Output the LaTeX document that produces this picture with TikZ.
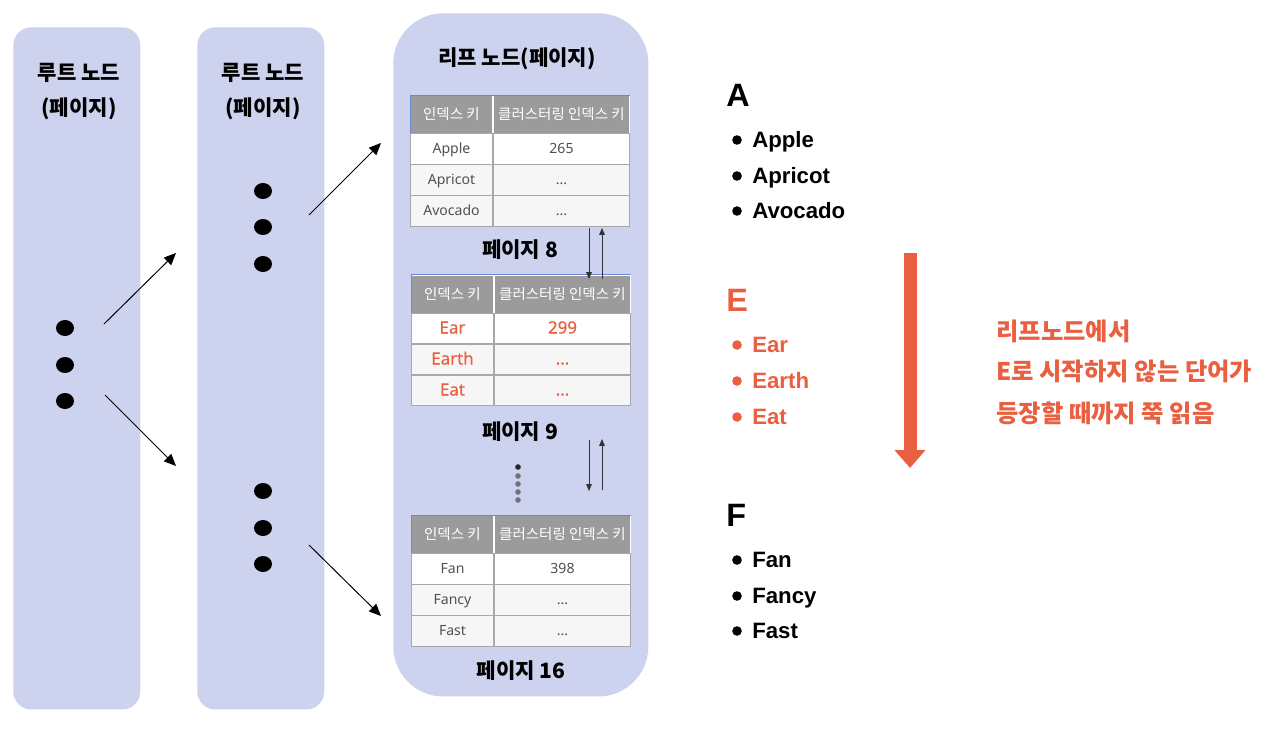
\documentclass[tikz,border=0pt]{standalone}
\usepackage{fontspec}
\setmainfont{Noto Sans CJK KR}
\newfontfamily\latinfont{Noto Sans}
\newfontfamily\latinmed{Noto Sans}[FakeBold=0.4]
\newfontfamily\latinbold{Liberation Sans}
\usetikzlibrary{arrows.meta}
\usetikzlibrary{shapes.geometric}
\definecolor{panelblue}{HTML}{CDD3EE}
\definecolor{headgray}{HTML}{9B9B9B}
\definecolor{headblue}{HTML}{6F86D6}
\definecolor{rowgray}{HTML}{F6F6F6}
\definecolor{linegray}{HTML}{A8A8A8}
\definecolor{textgray}{HTML}{505050}
\definecolor{dotgray}{HTML}{70717F}
\definecolor{salmon}{HTML}{E95F3F}
\tikzset{
	panel/.style={fill=panelblue, draw=none, rounded corners=#1, anchor=north west, inner sep=0pt},
	blackdot/.style={ellipse, fill=black, minimum width=0.45cm, minimum height=0.4cm, inner sep=0pt},
	title/.style={font=\fontsize{15}{15}\selectfont\bfseries, text=black, inner sep=0pt},
	thin arrow/.style={-{Triangle[length=0.3cm,width=0.26cm]}, line width=0.7pt},
	page arrow/.style={-{Triangle[length=0.17cm,width=0.14cm]}, line width=0.5pt, color=black!80},
	headcell/.style={fill=headgray, draw=white, line width=0.6pt, text=white, minimum height=0.95cm, inner sep=0pt, anchor=north west, font=\fontsize{10.3}{10.3}\selectfont},
	rowcell/.style={draw=linegray, line width=0.7pt, minimum height=0.765cm, inner sep=0pt, anchor=north west},
	plainrow/.style={text=textgray, text height=0.28cm, text depth=0.05cm, font=\latinfont\fontsize{10}{10}\selectfont},
	redrow/.style={text=salmon, text height=0.30cm, text depth=0.04cm, font=\latinmed\fontsize{12}{12}\selectfont},
	dotnode/.style={circle, fill=#1, minimum size=0.14cm, inner sep=0pt},
	bullet/.style={circle, fill=#1, minimum size=0.24cm, inner sep=0pt},
	letter/.style={font=\latinbold\bfseries\fontsize{23}{23}\selectfont, anchor=base west, inner sep=0pt},
	word/.style={font=\latinbold\bfseries\fontsize{15.8}{15.8}\selectfont, anchor=base west, inner sep=0pt},
	note/.style={font=\fontsize{17.3}{17.3}\selectfont\bfseries, text=salmon, anchor=west, inner sep=0pt},
}

% one table of the leaf page: name, left, top, row style, keys and first value
\newcommand{\pagetable}[8]{
	\node[headcell, minimum width=2.05cm] (#1h1) at (#2,#3) {인덱스 키};
	\node[headcell, minimum width=3.4cm] (#1h2) at (#2+83,#3) {클러스터링 인덱스 키};
	\draw[headblue, line width=0.7pt] (#1h1.south west) -- (#1h1.north west) -- (#1h2.north east);
	\draw[headblue, line width=0.7pt] (#1h1.south west) -- (#1h2.south east);
	\node[rowcell, fill=white, #4, minimum width=2.05cm] (#1a1) at (#2,#3+38) {#5};
	\node[rowcell, fill=white, #4, minimum width=3.4cm] (#1a2) at (#2+83,#3+38) {#8};
	\node[rowcell, fill=rowgray, #4, minimum width=2.05cm] (#1b1) at (#2,#3+69) {#6};
	\node[rowcell, fill=rowgray, #4, minimum width=3.4cm] (#1b2) at (#2+83,#3+69) {...};
	\node[rowcell, fill=rowgray, #4, minimum width=2.05cm] (#1c1) at (#2,#3+100) {#7};
	\node[rowcell, fill=rowgray, #4, minimum width=3.4cm] (#1c2) at (#2+83,#3+100) {...};
}

\begin{document}
\begin{tikzpicture}[x=0.025cm,y=-0.025cm]
	\useasboundingbox (0,0) rectangle (1280,730);
	
	% root, root and leaf panels
	\node[panel=0.45cm, minimum width=3.175cm, minimum height=17.05cm] (rootA) at (13,27) {};
	\node[panel=0.45cm, minimum width=3.175cm, minimum height=17.05cm] (rootB) at (197,27) {};
	\node[panel=1.25cm, minimum width=6.375cm, minimum height=17.075cm] (leaf) at (393,13) {};
	
	\node[title] (rootAtop) at (79,72.5) {루트 노드};
	\node[title] (rootAbot) at (79,108.5) {(페이지)};
	\node[title] (rootBtop) at (263,72.5) {루트 노드};
	\node[title] (rootBbot) at (263,108.5) {(페이지)};
	\node[title] (leaftitle) at (517,59) {리프 노드(페이지)};
	
	% dots
	\foreach \y [count=\i] in {328,365,401}
		\node[blackdot] (a\i) at (65,\y) {};
	\foreach \y [count=\i] in {191,227,264}
		\node[blackdot] (b\i) at (263,\y) {};
	\foreach \y [count=\i] in {491,528,564}
		\node[blackdot] (c\i) at (263,\y) {};
	
	% arrows between the levels
	\coordinate (p1) at (104,324); \coordinate (q1) at (176,253);
	\coordinate (p2) at (105,395); \coordinate (q2) at (176,466);
	\coordinate (p3) at (309,215); \coordinate (q3) at (381,143);
	\coordinate (p4) at (309,545); \coordinate (q4) at (381,616);
	\foreach \i in {1,...,4}
		\draw[thin arrow] (p\i) -- (q\i);
	
	% tables
	\pagetable{t}{410}{95}{plainrow}{Apple}{Apricot}{Avocado}{265}
	\pagetable{u}{411}{274.5}{redrow}{Ear}{Earth}{Eat}{299}
	\pagetable{v}{411}{515}{plainrow}{Fan}{Fancy}{Fast}{398}
	
	\node[title] (page8) at (520,250) {페이지 8};
	\node[title] (page9) at (520,432) {페이지 9};
	\node[title] (page16) at (521,671) {페이지 16};
	
	% page links
	\coordinate (r1) at (589,228); \coordinate (s1) at (589,279);
	\coordinate (r2) at (602,279); \coordinate (s2) at (602,228);
	\coordinate (r3) at (589,440); \coordinate (s3) at (589,491);
	\coordinate (r4) at (602,490); \coordinate (s4) at (602,439);
	\foreach \i in {1,...,4}
		\draw[page arrow] (r\i) -- (s\i);
	
	\node[dotnode=black!85] (v0) at (518,467) {};
	\foreach \y [count=\i] in {476,484,492,500}
		\node[dotnode=dotgray] (v\i) at (518,\y) {};
	
	% word lists on the right
	\node[letter] (letterA) at (726,106) {A};
	\foreach \w/\y [count=\i] in {Apple/139,Apricot/175,Avocado/210}{
		\node[bullet=black] (da\i) at (737,\y+1) {};
		\node[word] (wa\i) at (752,\y+8) {\w};
	}
	
	\node[letter, text=salmon] (letterE) at (726,311) {E};
	\foreach \w/\y [count=\i] in {Ear/344,Earth/380,Eat/416}{
		\node[bullet=salmon] (de\i) at (737,\y+1) {};
		\node[word, text=salmon] (we\i) at (752,\y+8) {\w};
	}
	
	\node[letter] (letterF) at (726,526) {F};
	\foreach \w/\y [count=\i] in {Fan/559,Fancy/595,Fast/630}{
		\node[bullet=black] (df\i) at (737,\y+1) {};
		\node[word] (wf\i) at (752,\y+8) {\w};
	}
	
	% big arrow
	\coordinate (bigtop) at (910,253); \coordinate (bigtip) at (910,468);
	\draw[-{Triangle[length=0.45cm,width=0.75cm]}, line width=0.325cm, color=salmon] (bigtop) -- (bigtip);
	
	\node[note] (n1) at (996,331) {리프노드에서};
	\node[note] (n2) at (996,371) {E로 시작하지 않는 단어가};
	\node[note] (n3) at (996,413) {등장할 때까지 쭉 읽음};
\end{tikzpicture}
\end{document}
